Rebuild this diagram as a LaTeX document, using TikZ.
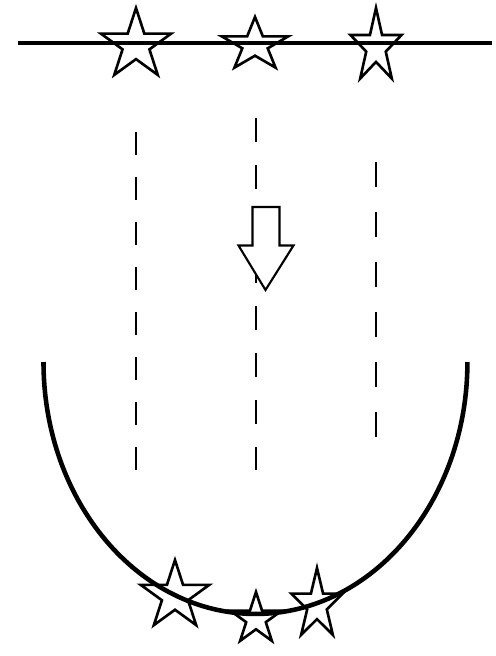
\documentclass[tikz,border=0pt]{standalone}
\usetikzlibrary{
    shapes.geometric
}
\tikzset{
  every path/.style={
    black,
    line width=1.2pt
  },
  every node/.style={
    transform shape,
    inner sep=0pt
  },
  starmark/.style={
    draw,
    star,
    star points=5,
    star point ratio=2.618,
    line width=1.5pt
  },
  boldline/.style={
    line width=2.6pt
  }
}

\begin{document}
\begin{tikzpicture}[x=0.02cm,y=0.02cm]
    \useasboundingbox (0,0) rectangle (496,-656);

    % 上の直線
    \draw[boldline] (18,-43) -- (492,-43);

    % 上の星
    \node[starmark,minimum size=1.48cm] (s1) at (136,-45) {};
    \node[starmark,minimum size=1.12cm,xscale=1.25] (s2) at (255,-45) {};
    \node[starmark,minimum size=1.56cm,xscale=0.69] (s3) at (376,-47) {};

    % 破線
    \draw[dash pattern=on 0.46cm off 0.44cm] (136,-132) -- (136,-470);
    \draw[dash pattern=on 0.48cm off 0.46cm] (256,-118) -- (256,-470);
    \draw[dash pattern=on 0.5cm off 0.5cm] (376,-162) -- (376,-437);

    % 下向きの矢印
    \draw[fill=white] (252.5,-207) -- (279.5,-207) -- (279.5,-245.5)
        -- (293.5,-245.5) -- (265.5,-290) -- (238.5,-245.5)
        -- (252.5,-245.5) -- cycle;

    % 下の曲線
    \draw[boldline] (43.5,-362) arc[start angle=180, end angle=360,
        x radius=4.24cm, y radius=5.04cm];

    % 下の星
    \node[starmark,minimum size=1.44cm] (b1) at (175,-596) {};
    \node[starmark,minimum size=1.08cm] (b2) at (256,-619) {};
    \node[starmark,minimum size=1.48cm,xscale=0.73] (b3) at (317,-605) {};
\end{tikzpicture}
\end{document}
